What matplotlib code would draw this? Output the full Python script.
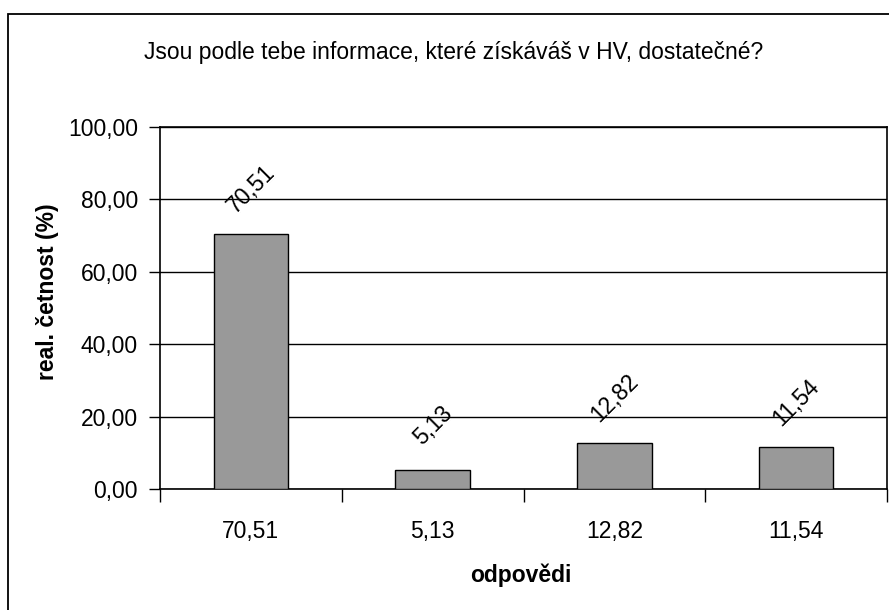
import matplotlib
matplotlib.use('Agg')
import matplotlib.pyplot as plt
from matplotlib.patches import Rectangle
from matplotlib.ticker import FuncFormatter, FixedLocator
import numpy as np

plt.rcParams['font.family'] = ['Liberation Sans', 'DejaVu Sans']

# data
values = [70.51, 5.13, 12.82, 11.54]
labels = ['70,51', '5,13', '12,82', '11,54']
title = 'Jsou podle tebe informace, které získáváš v HV, dostatečné?'
xlabel = 'odpovědi'
ylabel = 'real. četnost (%)'

W, H = 889, 610
fig = plt.figure(figsize=(W / 100, H / 100), dpi=100)

# outer frame of the chart
fig.patches.append(Rectangle((8 / W, -0.05), 1.1, (H - 14) / H + 0.05,
                             transform=fig.transFigure, fill=False,
                             edgecolor='black', linewidth=1.3))

ax = fig.add_axes([160 / W, (H - 489) / H, (887 - 160) / W, (489 - 127) / H])

x = np.arange(len(values))
ax.bar(x, values, width=0.41, color='#999999', edgecolor='black',
       linewidth=1.0, zorder=3)

ax.set_xlim(-0.5, len(values) - 0.5)
ax.set_ylim(0, 100)

# gridlines
ax.set_yticks(np.arange(0, 101, 20))
ax.yaxis.set_major_formatter(FuncFormatter(lambda v, p: f'{v:.2f}'.replace('.', ',')))
ax.grid(axis='y', color='black', linewidth=1.0, zorder=0)

# category ticks at boundaries, labels at centres
ax.xaxis.set_major_locator(FixedLocator(np.arange(-0.5, len(values), 1.0)))
ax.xaxis.set_minor_locator(FixedLocator(x))
ax.set_xticklabels([], minor=False)
ax.set_xticklabels(labels, minor=True)
ax.tick_params(axis='x', which='major', length=9, width=1.0, direction='out')
ax.tick_params(axis='x', which='minor', length=0, pad=22, labelsize=16.5)
ax.tick_params(axis='y', length=8, width=1.0, direction='out', pad=8, labelsize=16.5)

for s in ax.spines.values():
    s.set_linewidth(1.2)
    s.set_color('black')

# data labels
for xi, v, lab in zip(x, values, labels):
    ax.annotate(lab, (xi, v), xytext=(0, 32), textcoords='offset points',
                ha='center', va='center', rotation=45, fontsize=16.5)

fig.text(454 / W, 1 - 52 / H, title, ha='center', va='center', fontsize=16.5)
fig.text(521 / W, 1 - 575 / H, xlabel, ha='center', va='center',
         fontsize=16.5, fontweight='bold')
fig.text(48 / W, 1 - 292 / H, ylabel, ha='center', va='center',
         fontsize=16.5, fontweight='bold', rotation=90)

fig.savefig('out.png', dpi=100)
